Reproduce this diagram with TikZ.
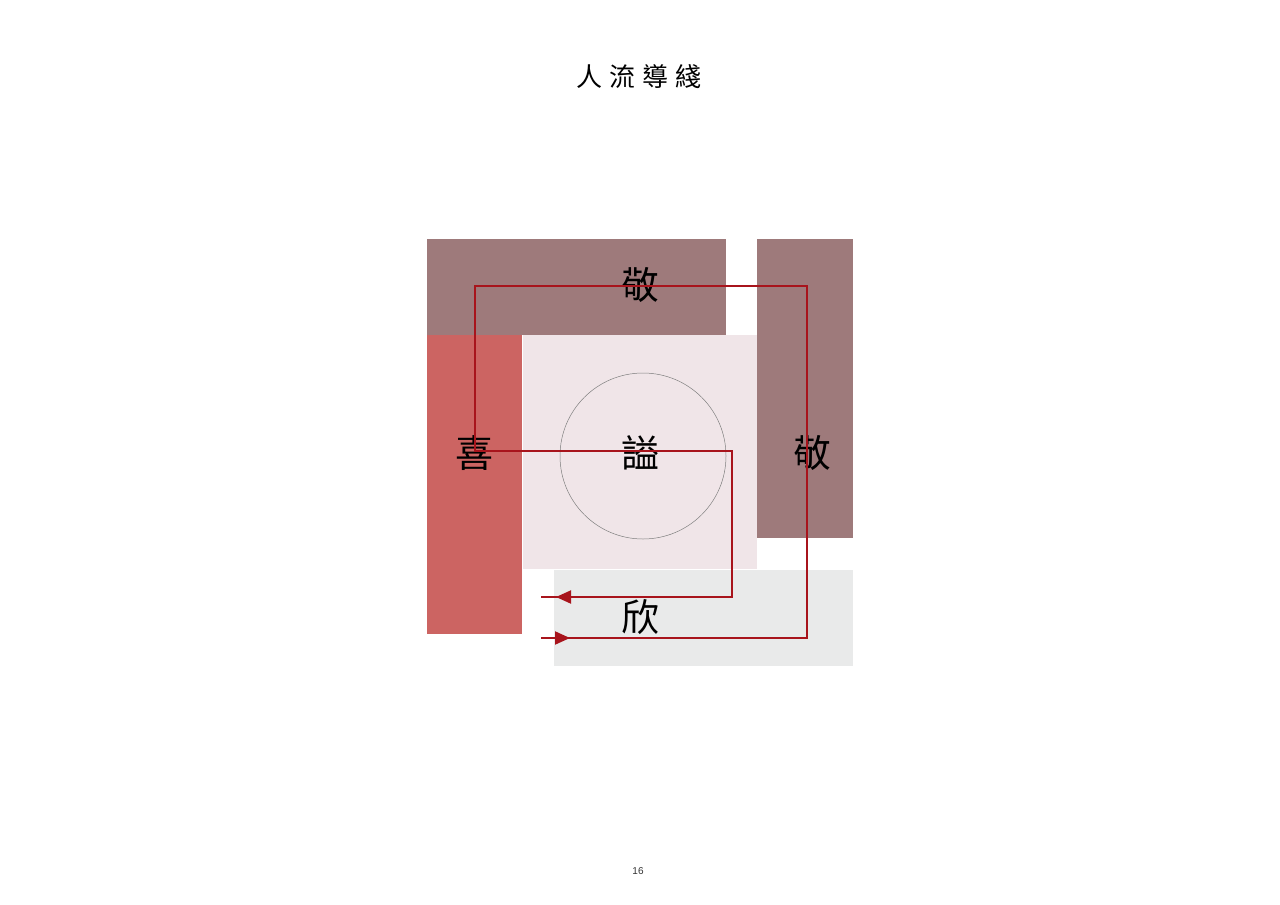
\documentclass[tikz,border=0pt]{standalone}
\usepackage{fontspec}
\setmainfont{Liberation Sans}
\newfontfamily\cjk{Noto Sans CJK TC}
\usetikzlibrary{arrows.meta}
\definecolor{brownbox}{HTML}{9E7A7B}
\definecolor{redbox}{HTML}{CC6462}
\definecolor{pinkbox}{HTML}{F0E5E8}
\definecolor{graybox}{HTML}{E9EAEA}
\definecolor{flow}{HTML}{A8141C}
\tikzset{
  zone/.style={draw=none},
  bigchar/.style={font=\cjk\fontsize{38}{40}\selectfont, inner sep=0pt},
  flowline/.style={draw=flow, line width=2pt},
  flowtip/.style={flowline, -{Triangle[length=15pt,width=13pt]}},
}
\begin{document}
\begin{tikzpicture}[x=1pt,y=-1pt]
\useasboundingbox (0,0) rectangle (1280,905);
\fill[white] (0,0) rectangle (1280,905);
% zones
\fill[brownbox] (427,239) rectangle (726,335);
\fill[brownbox] (757,239) rectangle (853,538);
\fill[redbox] (427,335) rectangle (522,634);
\fill[pinkbox] (523,335) rectangle (757,569);
\fill[graybox] (554,570) rectangle (853,666);
\node[circle, draw=gray, line width=0.5pt, minimum size=166pt, inner sep=0pt] (core) at (643,456) {};
% labels
\node[bigchar] (jingtop) at (640,285) {敬};
\node[bigchar] (xi) at (474,453) {喜};
\node[bigchar] (shi) at (640,453) {謚};
\node[bigchar] (jingright) at (812,453) {敬};
\node[bigchar] (xin) at (640,617) {欣};
% flow path
\coordinate (s1) at (541,638);
\coordinate (a1) at (570,638);
\coordinate (c1) at (807,638);
\coordinate (c2) at (807,286);
\coordinate (c3) at (475,286);
\coordinate (c4) at (475,451);
\coordinate (c5) at (732,451);
\coordinate (c6) at (732,597);
\coordinate (a2) at (570,597);
\coordinate (e2) at (541,597);
\draw[flowline] (s1) -- (c1) -- (c2) -- (c3) -- (c4) -- (c5) -- (c6) -- (e2);
\draw[flowtip] (s1) -- (a1);
\draw[flowtip] (a2) -- ([xshift=-14pt]a2);
% title and page number
\node[font=\cjk\fontsize{26}{28}\selectfont, inner sep=0pt] (title) at (639,77) {人\hspace{7pt}流\hspace{7pt}導\hspace{7pt}綫};
\node[font=\fontsize{10}{12}\selectfont, text=black!80, inner sep=0pt] (page) at (638,871) {16};
\end{tikzpicture}
\end{document}
